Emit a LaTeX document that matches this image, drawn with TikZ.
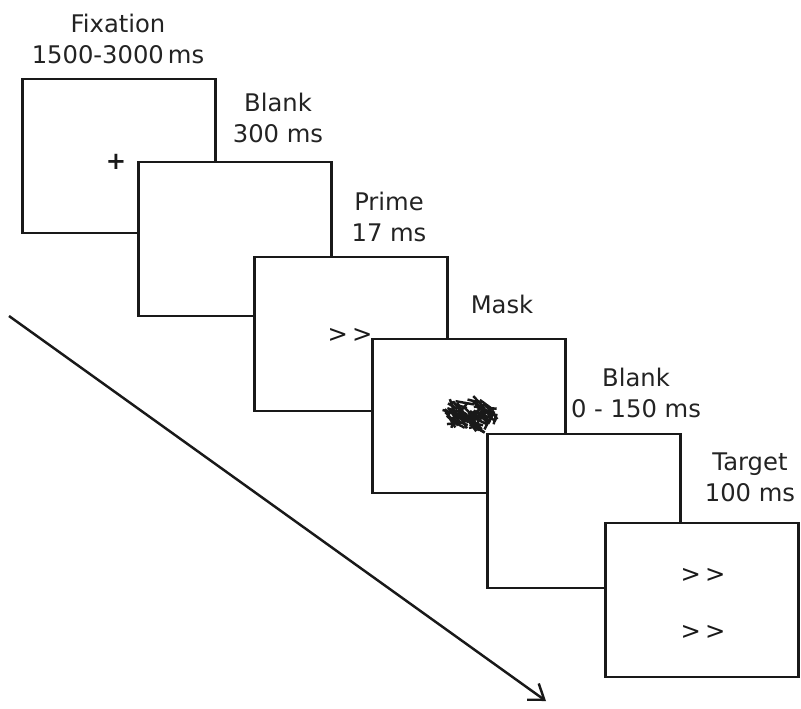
\documentclass[tikz,border=0pt]{standalone}
\usepackage{fontspec}
\setmainfont{DejaVu Sans}
\usepackage{xcolor}
\usepackage{tikz}
\usetikzlibrary{arrows.meta,positioning}
\definecolor{inkc}{RGB}{25,25,25}
\definecolor{txtc}{RGB}{35,35,35}

\begin{document}
\begin{tikzpicture}[font=\fontsize{13.8}{17.6}\selectfont,>={Straight Barb[length=2.8mm,width=4mm]},
  screen/.style={draw=inkc,line width=1.4pt,fill=white,minimum width=3.86cm,minimum height=3.08cm,inner sep=0pt,outer sep=0pt},
  lbl/.style={text=txtc,align=center,anchor=south,inner sep=0pt},
  stim/.style={text=inkc,inner sep=0pt}]
  \useasboundingbox (0,0) rectangle (16.02,14.16);
  % fixation 1500-3000 ms
  \node[screen] (fix) at (2.38,11.04) {};
  \node[stim] (cross) at (2.32,10.92) {\bfseries +};
  \node[lbl] (fixlbl) at (2.36,12.88) {Fixation\\1500-3000\,ms};
  % blank 300 ms
  \node[screen] (blank) at (4.70,9.38) {};
  \node[lbl] (blanklbl) at (5.56,11.30) {Blank\\300 ms};
  % prime 17 ms
  \node[screen] (prime) at (7.02,7.48) {};
  \node[stim] (primearr) at (7.00,7.46) {>\,>};
  \node[lbl] (primelbl) at (7.78,9.32) {Prime\\17 ms};
  % mask: scribble made of short strokes
  \node[screen] (mask) at (9.38,5.84) {};
  \node[lbl] (masklbl) at (10.04,7.88) {Mask};
  \pgfmathsetseed{7}
  \foreach \k in {1,...,80}{
    \pgfmathsetmacro{\rr}{sqrt(rnd)}
    \pgfmathsetmacro{\aa}{360*rnd}
    \pgfmathsetmacro{\px}{9.42+0.52*\rr*cos(\aa)}
    \pgfmathsetmacro{\py}{5.86+0.28*\rr*sin(\aa)}
    \pgfmathsetmacro{\dd}{rnd<0.6 ? -60+50*rnd : 180*rnd}
    \pgfmathsetmacro{\ll}{0.07+0.12*rnd}
    \draw[inkc,line width=1.4pt] (\px,\py) +(\dd:-\ll) -- +(\dd:\ll);
  }
  % blank 0-150 ms
  \node[screen] (blank2) at (11.68,3.94) {};
  \node[lbl] (blank2lbl) at (12.72,5.80) {Blank\\0 - 150 ms};
  % target 100 ms
  \node[screen] (target) at (14.04,2.16) {};
  \node[stim] (targup) at (14.06,2.66) {>\,>};
  \node[stim] (targdn) at (14.06,1.52) {>\,>};
  \node[lbl] (targlbl) at (15.00,4.12) {Target\\100 ms};
  % time axis
  \coordinate (tstart) at (0.18,7.84);
  \coordinate (tend) at (10.92,0.14);
  \draw[->,draw=inkc,line width=1.4pt] (tstart) -- (tend);
\end{tikzpicture}
\end{document}
